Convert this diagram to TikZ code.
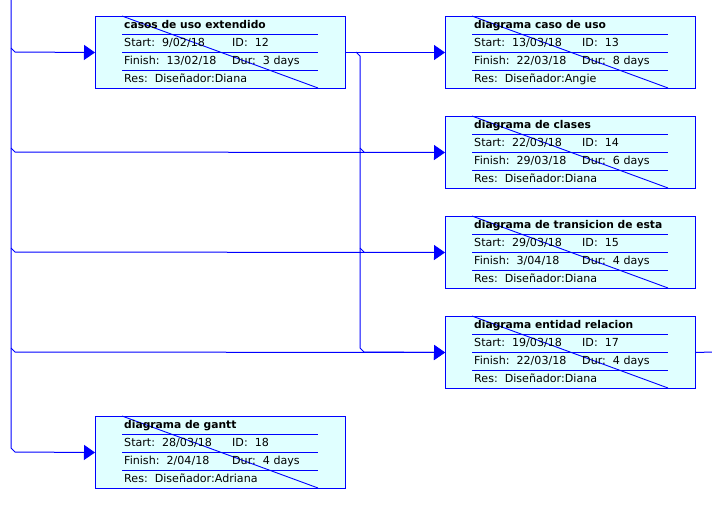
\documentclass[tikz,border=0pt]{standalone}
\usepackage{fontspec}
\setmainfont{DejaVu Sans}
\usetikzlibrary{arrows.meta}
\definecolor{pblue}{RGB}{0,0,255}
\definecolor{pfill}{RGB}{224,255,255}
\tikzset{
  taskframe/.style={draw=pblue,fill=pfill,line width=1pt,minimum width=250pt,minimum height=72pt,inner sep=0pt,anchor=north west},
  rowline/.style={draw=pblue,line width=0.9pt},
  txt/.style={anchor=base west,inner sep=0pt,font=\fontsize{11.1}{13}\selectfont,text=black},
  ttl/.style={txt,font=\fontsize{10.7}{12}\selectfont\bfseries},
  conn/.style={draw=pblue,line width=1pt},
  arr/.style={conn,-{Triangle[length=11pt,width=15pt]}}
}
\newcommand\ganttbox[9]{%
  \node[taskframe] (#1) at (#2,#3) {};
  \begin{scope}[shift={(#2,#3)}]
    \draw[rowline] (27,18) -- (223,18);
    \draw[rowline] (27,36) -- (223,36);
    \draw[rowline] (27,54) -- (223,54);
    \draw[rowline] (27,0) -- (223,72);
    \node[ttl] (#1-title) at (29,12) {#4};
    \node[txt] (#1-start) at (29,30.5) {Start:\ \ #5};
    \node[txt] (#1-id) at (137,30.5) {ID:\ \ #6};
    \node[txt] (#1-finish) at (29,48.5) {Finish:\ \ #7};
    \node[txt] (#1-dur) at (137,48.5) {Dur:\ \ #8};
    \node[txt] (#1-res) at (29,66) {Res:\ \ #9};
  \end{scope}%
}
\begin{document}
\begin{tikzpicture}[x=1pt,y=-1pt]
\fill[white] (0,0) rectangle (712,514);
\useasboundingbox (0,0) rectangle (712,514);
\ganttbox{t12}{95}{16}{casos de uso extendido}{9/02/18}{12}{13/02/18}{3 days}{Diseñador:Diana}
\ganttbox{t13}{445}{16}{diagrama caso de uso}{13/03/18}{13}{22/03/18}{8 days}{Diseñador:Angie}
\ganttbox{t14}{445}{116}{diagrama de clases}{22/03/18}{14}{29/03/18}{6 days}{Diseñador:Diana}
\ganttbox{t15}{445}{216}{diagrama de transicion de esta}{29/03/18}{15}{3/04/18}{4 days}{Diseñador:Diana}
\ganttbox{t17}{445}{316}{diagrama entidad relacion}{19/03/18}{17}{22/03/18}{4 days}{Diseñador:Diana}
\ganttbox{t18}{95}{416}{diagrama de gantt}{28/03/18}{18}{2/04/18}{4 days}{Diseñador:Adriana}
% left trunk
\coordinate (trunktop) at (11,0);
\coordinate (trunkbot) at (11,448);
\coordinate (b12) at (11,48);
\coordinate (b14) at (11,148);
\coordinate (b15) at (11,248);
\coordinate (b17) at (11,348);
\draw[arr] (trunktop) -- (trunkbot) -- ++(4,4) -- (t18.west);
\draw[arr] (b12) -- ++(4,4) -- (t12.west);
\draw[arr] (b14) -- ++(4,4) -- (t14.west);
\draw[arr] (b15) -- ++(4,4) -- (t15.west);
\draw[arr] (b17) -- ++(4,4) -- (t17.west);
% from t12
\draw[arr] (t12.east) -- (t13.west);
\coordinate (r0) at (356,52);
\coordinate (r1) at (360,348);
\draw[arr] (r0) -- ++(4,4) -- (r1) -- ++(4,4) -- (t17.west);
\coordinate (x14) at (360,148);
\coordinate (x15) at (360,248);
\draw[conn] (x14) -- ++(4,4);
\draw[conn] (x15) -- ++(4,4);
% out of t17
\coordinate (outr) at (712,352);
\draw[conn] (t17.east) -- (outr);
\end{tikzpicture}
\end{document}
